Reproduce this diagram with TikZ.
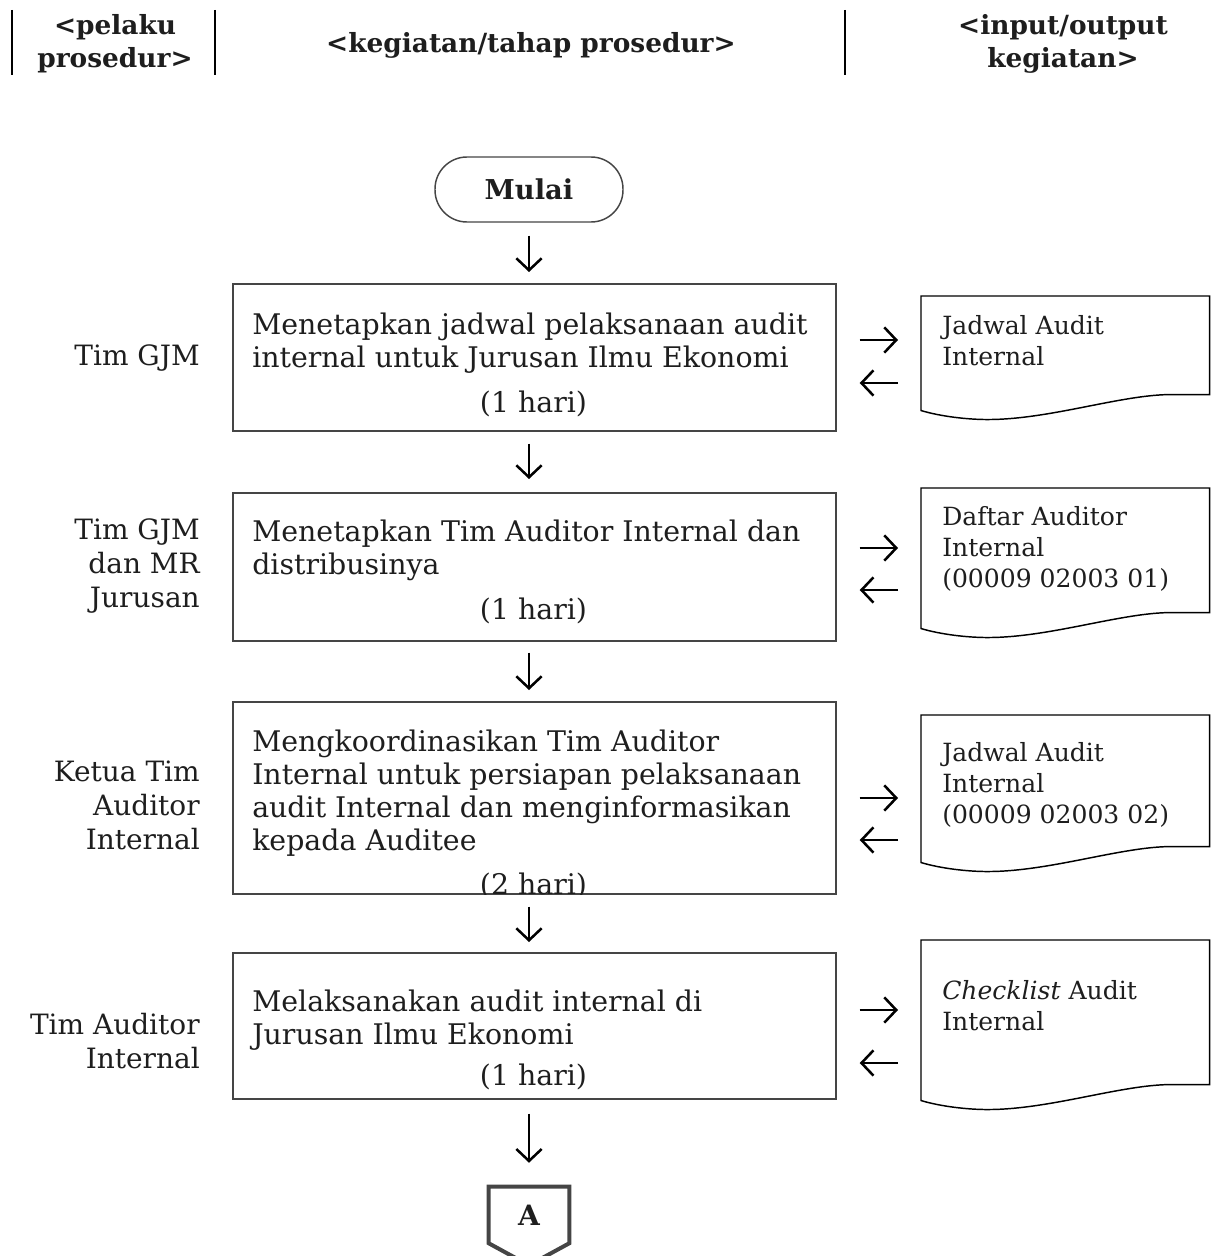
\documentclass[tikz,border=0pt]{standalone}
\usepackage{fontspec}
\setmainfont{DejaVu Serif}
\usetikzlibrary{arrows.meta,calc}
\definecolor{boxgray}{HTML}{454545}
\definecolor{txt}{HTML}{1E1E1E}
\tikzset{
  head/.style={font=\bfseries\fontsize{19.8}{24.75}\selectfont, text=txt, inner sep=0pt, align=center},
  hline/.style={line width=1.2pt, black},
  term/.style={draw=boxgray, line width=1.1pt, rounded corners=24pt, minimum width=141pt, minimum height=48.75pt, inner sep=0pt, font=\bfseries\fontsize{20.5}{24}\selectfont, text=txt},
  procbox/.style={draw=boxgray, line width=1.3pt, anchor=north west, minimum width=452.25pt, inner sep=0pt},
  body/.style={font=\fontsize{21.3}{24.75}\selectfont, text=txt, inner sep=0pt, align=left, anchor=west},
  dur/.style={font=\fontsize{21.3}{24.75}\selectfont, text=txt, inner sep=0pt, anchor=center},
  actor/.style={font=\fontsize{21}{25.5}\selectfont, text=txt, inner sep=0pt, align=right, anchor=east},
  docnode/.style={anchor=north west, minimum width=216pt, inner sep=0pt, draw=none},
  docline/.style={line width=1.1pt, black},
  doctext/.style={font=\fontsize{18.8}{23.25}\selectfont, text=txt, inner sep=0pt, align=left, anchor=west},
  flowarrow/.style={line width=1.9pt, black, -{Straight Barb[length=9pt,width=19pt]}},
  connnode/.style={minimum width=60pt, minimum height=42pt, inner sep=0pt, font=\bfseries\fontsize{21}{24}\selectfont, text=txt},
  connline/.style={line width=3pt, boxgray, line join=miter},
}
\newcommand{\docshape}[1]{%
  \draw[docline] (#1.south west) -- (#1.north west) -- (#1.north east) -- ([yshift=12pt]#1.south east)
    -- ([xshift=188pt,yshift=12pt]#1.south west)
    .. controls ([xshift=150pt,yshift=12pt]#1.south west) and ([xshift=97pt,yshift=-6.75pt]#1.south west) .. ([xshift=50pt,yshift=-6.75pt]#1.south west)
    .. controls ([xshift=35pt,yshift=-6.75pt]#1.south west) and ([xshift=15pt,yshift=-4.5pt]#1.south west) .. (#1.south west) -- cycle;}
\begin{document}
\begin{tikzpicture}[x=0.75pt,y=-0.75pt]
\useasboundingbox (0,0) rectangle (1219,1256);

% header
\coordinate (s1t) at (12,10);  \coordinate (s1b) at (12,75);
\coordinate (s2t) at (215,10); \coordinate (s2b) at (215,75);
\coordinate (s3t) at (845,10); \coordinate (s3b) at (845,75);
\draw[hline] (s1t) -- (s1b);
\draw[hline] (s2t) -- (s2b);
\draw[hline] (s3t) -- (s3b);
\node[head] (h1) at (115,43.5) {<pelaku\\prosedur>};
\node[head] (h2) at (531,45) {<kegiatan/tahap prosedur>};
\node[head] (h3) at (1063,43.5) {<input/output\\kegiatan>};

% start
\node[term] (start) at (529,189.5) {Mulai};

% process boxes
\node[procbox, minimum height=110.25pt] (b1) at (232,283) {};
\node[procbox, minimum height=111pt] (b2) at (232,492) {};
\node[procbox, minimum height=144pt] (b3) at (232,701) {};
\node[procbox, minimum height=109.5pt] (b4) at (232,952) {};

\node[body] (t1) at (252,343) {Menetapkan jadwal pelaksanaan audit\\internal untuk Jurusan Ilmu Ekonomi};
\node[dur] (u1) at (533.5,404) {(1 hari)};
\node[body] (t2) at (252,550) {Menetapkan Tim Auditor Internal dan\\distribusinya};
\node[dur] (u2) at (533.5,611) {(1 hari)};
\node[body] (t3) at (252,793.5) {Mengkoordinasikan Tim Auditor\\Internal untuk persiapan pelaksanaan\\audit Internal dan menginformasikan\\kepada Auditee};
\begin{scope}
  \clip (b3.north west) rectangle (b3.south east);
  \node[dur] (u3) at (533.5,886) {(2 hari)};
\end{scope}
\node[body] (t4) at (252,1020) {Melaksanakan audit internal di\\Jurusan Ilmu Ekonomi};
\node[dur] (u4) at (533.5,1077) {(1 hari)};

% actors
\node[actor] (a1) at (200,358) {Tim GJM};
\node[actor] (a2) at (200,566) {Tim GJM\\dan MR\\Jurusan};
\node[actor] (a3) at (200,805) {Ketua Tim\\Auditor\\Internal};
\node[actor] (a4) at (200,1041) {Tim Auditor\\Internal};

% documents
\node[docnode, minimum height=85.5pt] (d1) at (921,296) {};
\node[docnode, minimum height=105pt] (d2) at (921,488) {};
\node[docnode, minimum height=110.25pt] (d3) at (921,715) {};
\node[docnode, minimum height=120pt] (d4) at (921,940) {};
\docshape{d1}
\docshape{d2}
\docshape{d3}
\docshape{d4}
\node[doctext] (o1) at (942,341) {Jadwal Audit\\Internal};
\node[doctext] (o2) at (942,549) {Daftar Auditor\\Internal\\(00009 02003 01)};
\node[doctext] (o3) at (942,785) {Jadwal Audit\\Internal\\(00009 02003 02)};
\node[doctext] (o4) at (942,1006) {\textit{Checklist} Audit\\Internal};

% connector A
\node[connnode] (A) at (529,1215) {A};
\draw[connline] (A.south west) -- (A.north west) -- (A.north east) -- (A.south east) -- ([yshift=-16.5pt]A.south) -- cycle;

% vertical flow arrows
\draw[flowarrow, shorten <=9.75pt, shorten >=8.25pt] (start.south) -- (start.south |- b1.north);
\draw[flowarrow, shorten <=9pt, shorten >=9.75pt] (start.south |- b1.south) -- (start.south |- b2.north);
\draw[flowarrow, shorten <=8.25pt, shorten >=8.25pt] (start.south |- b2.south) -- (start.south |- b3.north);
\draw[flowarrow, shorten <=9pt, shorten >=7.5pt] (start.south |- b3.south) -- (start.south |- b4.north);
\draw[flowarrow, shorten <=10.5pt, shorten >=18pt] (start.south |- b4.south) -- (A.north);

% horizontal arrows
\coordinate (r1) at (0,340);  \coordinate (l1) at (0,383);
\coordinate (r2) at (0,548);  \coordinate (l2) at (0,590);
\coordinate (r3) at (0,798);  \coordinate (l3) at (0,840);
\coordinate (r4) at (0,1010); \coordinate (l4) at (0,1063);
\foreach \b/\d/\r/\l in {b1/d1/r1/l1, b2/d2/r2/l2, b3/d3/r3/l3, b4/d4/r4/l4}{
  \draw[flowarrow, shorten <=17.25pt, shorten >=17.25pt] (\b.east |- \r) -- (\d.west |- \r);
  \draw[flowarrow, shorten <=17.25pt, shorten >=17.25pt] (\d.west |- \l) -- (\b.east |- \l);
}
\end{tikzpicture}
\end{document}
